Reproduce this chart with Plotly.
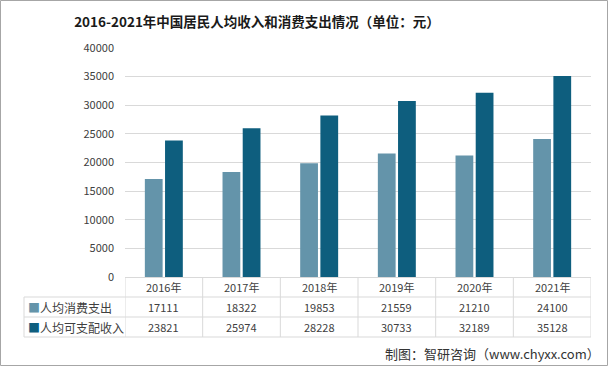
import plotly.graph_objects as go

years = ["2016年", "2017年", "2018年", "2019年", "2020年", "2021年"]
consumption = [17111, 18322, 19853, 21559, 21210, 24100]
income = [23821, 25974, 28228, 30733, 32189, 35128]
series_names = ["人均消费支出", "人均可支配收入"]
colors = ["#6494AA", "#0E5E7E"]
y_ticks = [0, 5000, 10000, 15000, 20000, 25000, 30000, 35000, 40000]

W, H = 608, 366
L, R, T, B = 125, 17, 48, 89
PW, PH = W - L - R, H - T - B

def px(x):
    return (x - L) / PW

def py(y):
    return (H - B - y) / PH

FONT = "Noto Sans CJK SC, Microsoft YaHei, sans-serif"
GRID = "#D9D9D9"
TXT = "#404040"

fig = go.Figure()
for name, vals, c in zip(series_names, [consumption, income], colors):
    fig.add_trace(go.Bar(x=years, y=vals, name=name, marker_color=c,
                         marker_line_width=0, showlegend=False))

shapes = []
for yy in [297, 317, 337]:
    shapes.append(dict(type="line", xref="paper", yref="paper", x0=px(24), x1=1,
                       y0=py(yy), y1=py(yy), line=dict(color=GRID, width=1)))
for i in range(len(years) + 1):
    shapes.append(dict(type="line", xref="x", yref="paper", x0=i - 0.5, x1=i - 0.5,
                       y0=0, y1=py(337), line=dict(color=GRID, width=1)))
shapes.append(dict(type="line", xref="paper", yref="paper", x0=px(24), x1=px(24),
                   y0=py(297), y1=py(337), line=dict(color=GRID, width=1)))
shapes.append(dict(type="rect", xref="paper", yref="paper", x0=px(0.5), x1=px(W - 0.5),
                   y0=py(0.5), y1=py(H - 0.5), line=dict(color="#A6A6A6", width=1)))

ann = []
for i, yr in enumerate(years):
    for text, yy in [(yr, 287), (str(consumption[i]), 307), (str(income[i]), 327)]:
        ann.append(dict(x=yr, xref="x", y=py(yy), yref="paper", text=text,
                        xanchor="center", yanchor="middle", showarrow=False,
                        font=dict(size=11, color=TXT, family=FONT)))
for name, c, yy in zip(series_names, colors, [307, 327]):
    ann.append(dict(x=px(26), xref="paper", y=py(yy), yref="paper", xanchor="left",
                    yanchor="middle",
                    text=f"<span style='color:{c}'>■</span>{name}", showarrow=False,
                    font=dict(size=12, color=TXT, family=FONT)))
ann.append(dict(x=px(602), xref="paper", y=py(353), yref="paper", xanchor="right",
                yanchor="middle",
                text="制图：智研咨询（www.chyxx.com）", showarrow=False,
                font=dict(size=13, color="#333333", family=FONT)))

fig.update_layout(
    width=W, height=H,
    margin=dict(l=L, r=R, t=T, b=B),
    paper_bgcolor="white", plot_bgcolor="white",
    barmode="group", bargap=0.48, bargroupgap=0.12,
    title=dict(text="<b>2016-2021年中国居民人均收入和消费支出情况（单位：元）</b>",
               x=257 / W, y=1 - 22 / H, xanchor="center", yanchor="middle",
               font=dict(size=13.5, color="#1A1A1A", family=FONT)),
    xaxis=dict(range=[-0.5, 5.5], showticklabels=False, showgrid=False,
               showline=True, linecolor=GRID, linewidth=1, ticks="", zeroline=False),
    yaxis=dict(range=[0, 40000], tickvals=y_ticks, tickformat="d", showgrid=True,
               gridcolor=GRID, gridwidth=1, zeroline=False, showline=False, ticks="",
               ticklabelstandoff=10,
               tickfont=dict(size=11, color=TXT, family=FONT)),
    shapes=shapes, annotations=ann,
)

fig.write_html("out.html", config={"displayModeBar": False},
               post_script="document.body.style.margin='0';document.body.style.overflow='hidden';")
